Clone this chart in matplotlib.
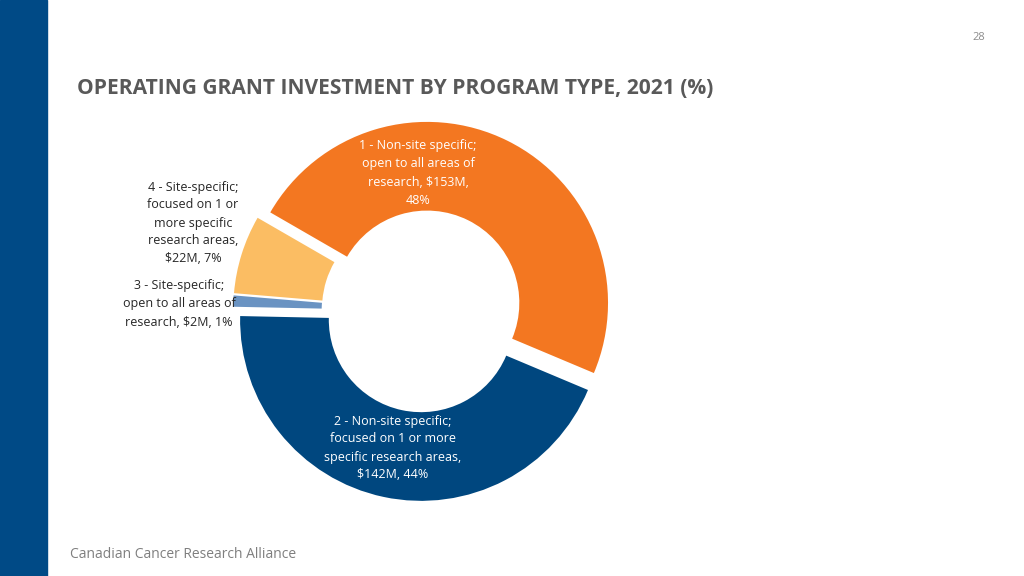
import matplotlib.pyplot as plt
from matplotlib.patches import Rectangle

# program types, share of operating grant investment (%)
programs = ['1 - Non-site specific;\nopen to all areas of\nresearch, $153M,\n48%',
            '2 - Non-site specific;\nfocused on 1 or more\nspecific research areas,\n$142M, 44%',
            '3 - Site-specific;\nopen to all areas of\nresearch, $2M, 1%',
            '4 - Site-specific;\nfocused on 1 or\nmore specific\nresearch areas,\n$22M, 7%']
shares = [48, 44, 1, 7]
colors = ['#F37721', '#00477F', '#6A93C2', '#FBBD63']

W, H = 1024, 576
fig = plt.figure(figsize=(W / 100, H / 100), dpi=100)
plt.rcParams['font.family'] = ['Open Sans', 'DejaVu Sans']


def fx(x):
    return x / W


def fy(y):
    return 1 - y / H


# left band
fig.patches.append(Rectangle((0, 0), fx(47), 1, transform=fig.transFigure,
                             color='#004A86', zorder=0))

# donut axes: centre (423, 311) px, radius 181 px
cx, cy, R = 423, 311, 181
half = 230
ax = fig.add_axes([fx(cx - half), fy(cy + half), 2 * half / W, 2 * half / H])

ax.pie(shares, colors=colors, startangle=150, counterclock=False,
       explode=[0.05, 0.05, 0.05, 0.05], radius=1,
       wedgeprops=dict(width=0.49, edgecolor='white', linewidth=0))

# pie() resets the limits, so fix them afterwards
lim = half / R
ax.set_xlim(-lim, lim)
ax.set_ylim(-lim, lim)
ax.set_aspect('equal')
ax.axis('off')

fs = 9
ls = 1.5
fig.text(fx(418), fy(173), programs[0], color='white', fontsize=fs,
         ha='center', va='center', linespacing=ls)
fig.text(fx(393), fy(448), programs[1], color='white', fontsize=fs,
         ha='center', va='center', linespacing=ls)
fig.text(fx(179), fy(304), programs[2], color='#262626', fontsize=fs,
         ha='center', va='center', linespacing=ls)
fig.text(fx(193), fy(223), programs[3], color='#262626', fontsize=fs,
         ha='center', va='center', linespacing=ls)

fig.text(fx(77), fy(88), 'OPERATING GRANT INVESTMENT BY PROGRAM TYPE, 2021 (%)',
         color='#595959', fontsize=15.1, fontweight='bold', ha='left', va='center')
fig.text(fx(70), fy(554), 'Canadian Cancer Research Alliance',
         color='#7F7F7F', fontsize=10, ha='left', va='center')
fig.text(fx(979), fy(38), '28', color='#8C8C8C', fontsize=8, ha='center', va='center')

fig.savefig('out.png', dpi=100, facecolor='white')
